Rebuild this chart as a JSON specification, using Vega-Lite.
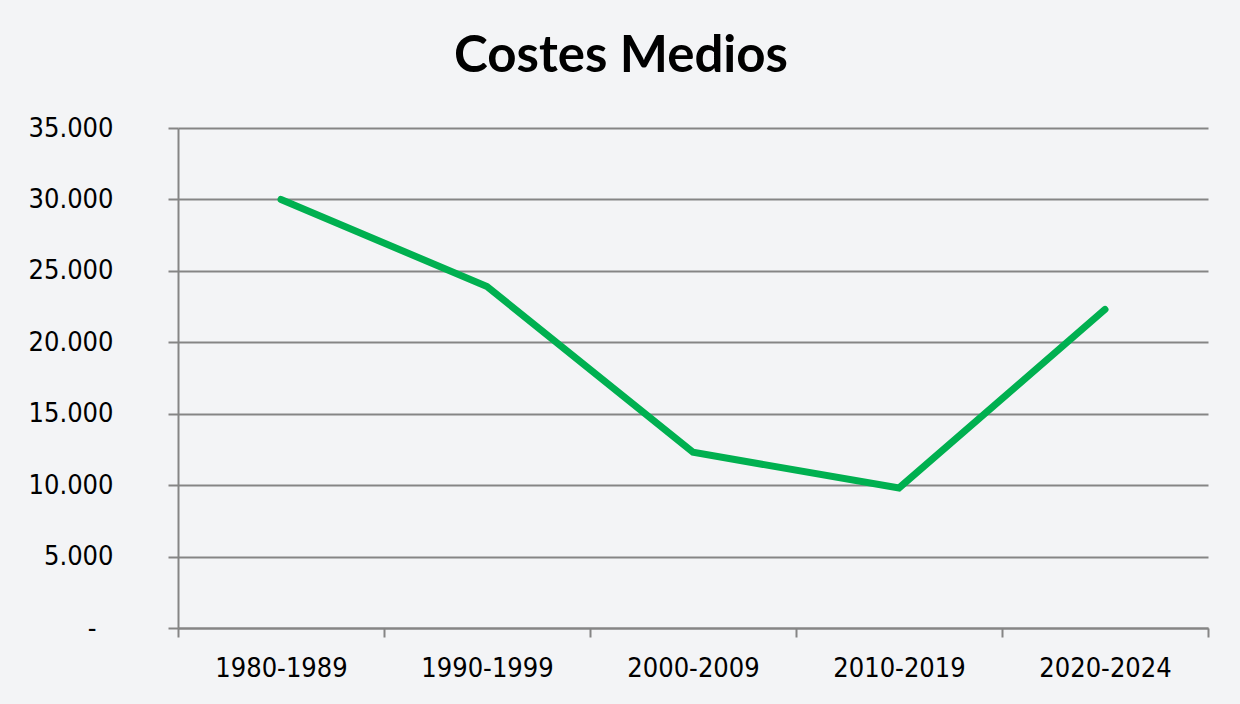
{
  "$schema": "https://vega.github.io/schema/vega-lite/v6.json",
  "width": 1030,
  "height": 500,
  "autosize": {"type": "none"},
  "padding": {"left": 178, "top": 128, "right": 32, "bottom": 76},
  "background": "#F3F4F6",
  "title": {
    "text": "Costes Medios",
    "font": "Lato",
    "fontWeight": "bold",
    "fontSize": 51,
    "color": "#000000",
    "anchor": "middle",
    "dx": -72,
    "offset": 31
  },
  "data": {
    "values": [
      {"periodo": "1980-1989", "coste": 30000},
      {"periodo": "1990-1999", "coste": 23900},
      {"periodo": "2000-2009", "coste": 12300},
      {"periodo": "2010-2019", "coste": 9800},
      {"periodo": "2020-2024", "coste": 22300}
    ]
  },
  "config": {
    "view": {"stroke": null},
    "axis": {
      "labelFont": "DejaVu Sans Condensed, Liberation Sans, sans-serif",
      "labelFontSize": 27,
      "labelColor": "#000000",
      "domainColor": "#858585",
      "domainWidth": 2,
      "tickColor": "#858585",
      "tickWidth": 2,
      "gridColor": "#858585",
      "gridWidth": 2,
      "title": null
    }
  },
  "mark": {"type": "line", "color": "#00B050", "strokeWidth": 7, "strokeCap": "round", "strokeJoin": "miter"},
  "encoding": {
    "x": {
      "field": "periodo",
      "type": "nominal",
      "sort": null,
      "scale": {"paddingInner": 0, "paddingOuter": 0},
      "axis": {
        "labelAngle": 0,
        "tickBand": "extent",
        "tickSize": 9,
        "labelPadding": 18,
        "grid": false
      }
    },
    "y": {
      "field": "coste",
      "type": "quantitative",
      "scale": {"domain": [0, 35000], "nice": false},
      "axis": {
        "values": [0, 5000, 10000, 15000, 20000, 25000, 30000, 35000],
        "labelExpr": "datum.value == 0 ? '-' : replace(format(datum.value, ','), ',', '.')",
        "tickSize": 10,
        "labelPadding": {"condition": {"test": "datum.value == 0", "value": 72}, "value": 55},
        "grid": true
      }
    }
  }
}
